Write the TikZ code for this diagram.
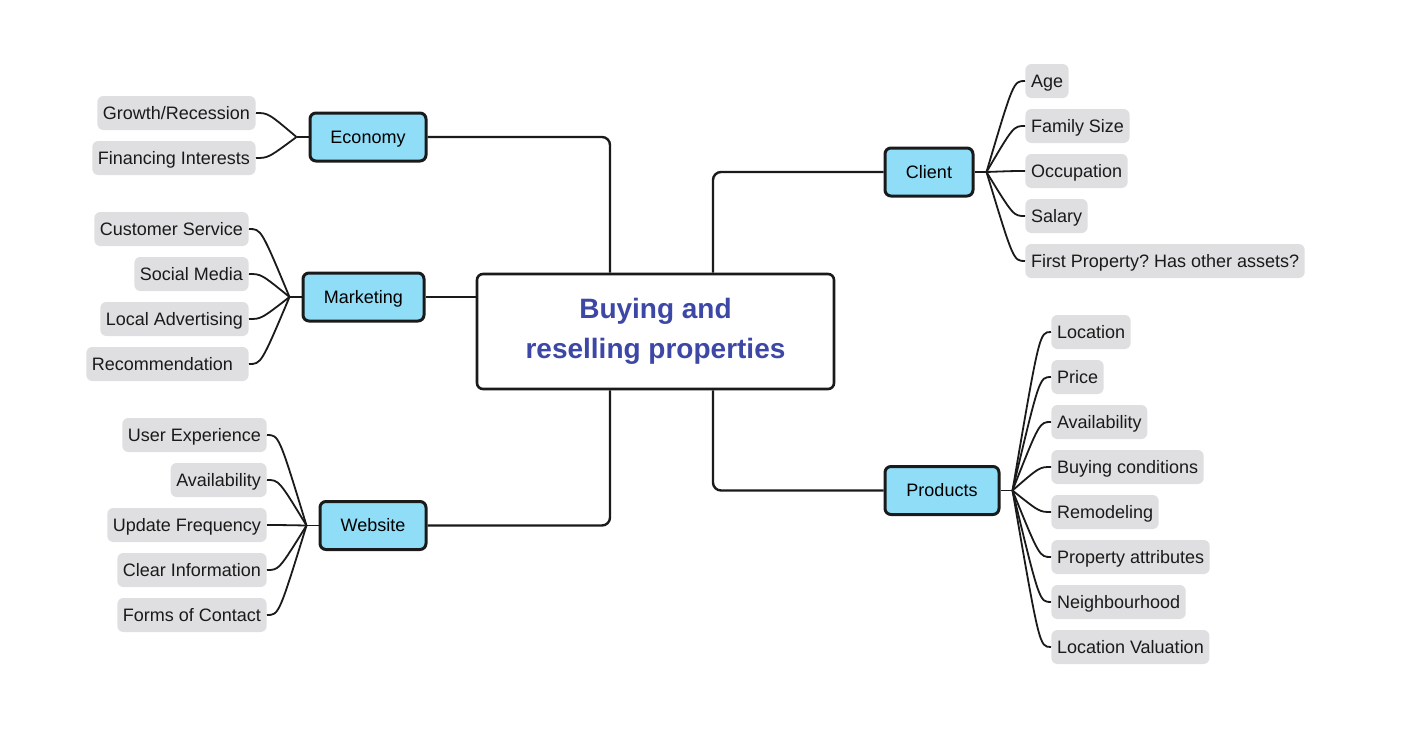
\documentclass[tikz,border=0pt]{standalone}
\usepackage{fontspec}
\setmainfont{Liberation Sans}
\usepackage{xcolor}
\usepackage{tikz}
\usetikzlibrary{calc,positioning}
\frenchspacing

\definecolor{topicblue}{HTML}{8FDDF6}
\definecolor{leafgrey}{HTML}{DFDFE1}
\definecolor{titleblue}{HTML}{3D47A5}
\definecolor{inkblack}{HTML}{1A1A1A}

\begin{document}
\begin{tikzpicture}[
    x = 0.5pt, y = -0.5pt,
    hubbox/.style={
        rectangle, rounded corners = 3pt, % shape
        minimum width = 178.5pt, minimum height = 57.5pt, %size
        draw = inkblack, line width = 1.3pt, %border
        fill = white,
        align = center, text = titleblue,
        font = \fontsize{14}{20}\selectfont\bfseries %font
      },
    topic/.style={
        rectangle, rounded corners = 3pt,
        minimum height = 24pt, inner xsep = 0pt,
        text height = 6.4pt, text depth = 0pt,
        draw = inkblack, line width = 1.5pt,
        fill = topicblue,
        text = black, font = \fontsize{9}{11}\selectfont
      },
    leaf/.style={
        rectangle, rounded corners = 3pt,
        minimum height = 17pt, inner xsep = 2.8pt,
        text height = 6.4pt, text depth = 0pt,
        fill = leafgrey,
        text = inkblack, font = \fontsize{9}{11}\selectfont
      },
    trunk/.style={draw = inkblack, line width = 1.2pt, rounded corners = 4pt},
    twig/.style={draw = inkblack, line width = 0.9pt}]
  \useasboundingbox (0,0) rectangle (1420,744);

  % centre
  \node [hubbox] (hub) at (655.5,331.5) {Buying and\\reselling properties};

  % topics
  \node [topic, minimum width = 58pt] (eco) at (368,137) {Economy};
  \node [topic, minimum width = 60.5pt] (mark) at (363.5,297) {Marketing};
  \node [topic, minimum width = 53pt] (web) at (373,525.5) {Website};
  \node [topic, minimum width = 44pt] (client) at (929,172) {Client};
  \node [topic, minimum width = 57pt] (prod) at (942,490.5) {Products};

  % main branches
  \draw [trunk] ([xshift=-22.75pt]hub.north) |- (eco.east);
  \draw [trunk] (hub.west |- mark.east) -- (mark.east);
  \draw [trunk] ([xshift=-22.75pt]hub.south) |- (web.east);
  \draw [trunk] ([xshift=28.75pt]hub.north) |- (client.west);
  \draw [trunk] ([xshift=28.75pt]hub.south) |- (prod.west);

  % leaves
  \foreach \t [count=\i] in {Growth/Recession, Financing Interests}
    \node [leaf, anchor = east] (eco\i) at (256,68+45*\i) {\t};
  \foreach \t [count=\i] in {Customer Service, Social Media, Local Advertising, Recommendation\kern5pt}
    \node [leaf, anchor = east] (mark\i) at (249,184+45*\i) {\t};
  \foreach \t [count=\i] in {User Experience, Availability, Update Frequency, Clear Information, Forms of Contact}
    \node [leaf, anchor = east] (web\i) at (267,390+45*\i) {\t};
  \foreach \t [count=\i] in {Age, Family Size, Occupation, Salary, First Property? Has other assets?}
    \node [leaf, anchor = west] (client\i) at (1025,36+45*\i) {\t};
  \foreach \t [count=\i] in {Location, Price, Availability, Buying conditions, Remodeling,
      Property attributes, Neighbourhood, Location Valuation}
    \node [leaf, anchor = west] (prod\i) at (1051,287+45*\i) {\t};

  % forks
  \draw [twig] (eco.west) -- ++(-12,0) coordinate (ecoF);
  \draw [twig] (mark.west) -- ++(-12,0) coordinate (markF);
  \draw [twig] (web.west) -- ++(-12,0) coordinate (webF);
  \draw [twig] (client.east) -- ++(12,0) coordinate (clientF);
  \draw [twig] (prod.east) -- ++(12,0) coordinate (prodF);

  % twigs
  \foreach \f/\n/\a in {eco/2/east, mark/4/east, web/5/east, client/5/west, prod/8/west}
    \foreach \i in {1,...,\n}
      \draw [twig] let \p1 = (\f F), \p2 = (\f\i.\a) in
        (\p1) .. controls (\x1+0.7*\x2-0.7*\x1,\y2) .. (\p2);
\end{tikzpicture}
\end{document}
